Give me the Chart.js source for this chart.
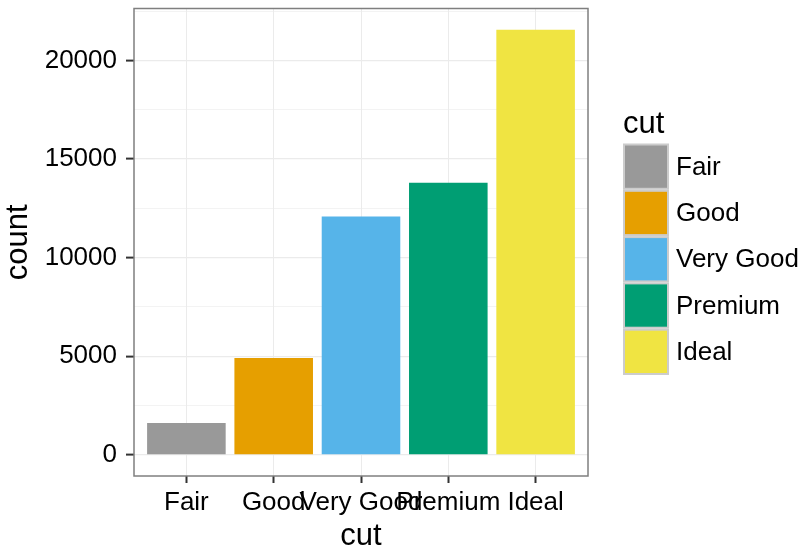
<!DOCTYPE html>
<html>
<head>
<meta charset="utf-8">
<script src="https://cdn.jsdelivr.net/npm/chart.js@4.4.1/dist/chart.umd.min.js"></script>
<style>
html,body{margin:0;padding:0;background:#fff;}
#wrap{width:806px;height:552px;position:relative;}
</style>
</head>
<body>
<div id="wrap"><canvas id="c" width="806" height="552"></canvas></div>
<script>
// ---- data ----
const categories = ["Fair", "Good", "Very Good", "Premium", "Ideal"];
const counts = [1610, 4906, 12082, 13791, 21551];
const barColors = ["#999999", "#E69F00", "#56B4E9", "#009E73", "#F0E442"];
const yMajorTicks = [0, 5000, 10000, 15000, 20000];
const yMinorTicks = [2500, 7500, 12500, 17500, 22500];
const xTitle = "cut";
const yTitle = "count";
const legendTitle = "cut";

const FONT = '"Liberation Sans", Arial, Helvetica, sans-serif';
const maxCount = Math.max(...counts);
const yPad = maxCount * 0.05;

const panelBorder = {
  id: 'panelBorder',
  afterDraw(chart) {
    const {ctx, chartArea: a} = chart;
    ctx.save();
    ctx.strokeStyle = '#7f7f7f';
    ctx.lineWidth = 1.5;
    ctx.strokeRect(a.left, a.top, a.right - a.left, a.bottom - a.top);
    ctx.restore();
  }
};

const ggLegend = {
  id: 'ggLegend',
  afterDraw(chart) {
    const {ctx, chartArea: a} = chart;
    ctx.save();
    const x0 = a.right + 35;
    const keyW = 46, keyH = 46.3, y0 = 143.5;
    ctx.fillStyle = '#000';
    ctx.textAlign = 'left';
    ctx.textBaseline = 'alphabetic';
    ctx.font = '31px ' + FONT;
    ctx.fillText(legendTitle, x0, 133);
    ctx.font = '26px ' + FONT;
    ctx.textBaseline = 'middle';
    categories.forEach((c, i) => {
      const y = y0 + i * keyH;
      ctx.fillStyle = '#cccccc';
      ctx.fillRect(x0, y, keyW, keyH);
      ctx.fillStyle = barColors[i];
      ctx.fillRect(x0 + 2, y + 2, keyW - 4, keyH - 4);
      ctx.fillStyle = '#000';
      ctx.fillText(c, x0 + keyW + 7, y + keyH / 2 + 1);
    });
    ctx.restore();
  }
};

new Chart(document.getElementById('c'), {
  type: 'bar',
  data: {
    datasets: [{
      data: categories.map((c, i) => ({x: i, y: counts[i]})),
      backgroundColor: barColors,
      borderWidth: 0,
      barPercentage: 0.9,
      categoryPercentage: 1.0
    }]
  },
  options: {
    responsive: false,
    animation: false,
    devicePixelRatio: 1,
    layout: {padding: {left: 0, right: 218, top: 8.5, bottom: 0}},
    plugins: {legend: {display: false}, tooltip: {enabled: false}},
    scales: {
      x: {
        type: 'linear',
        offset: false,
        min: -0.6,
        max: categories.length - 1 + 0.6,
        afterBuildTicks(scale) { scale.ticks = categories.map((c, i) => ({value: i})); },
        afterFit(scale) { scale.height = 76; scale.paddingLeft = 0; scale.paddingRight = 0; },
        border: {display: false},
        grid: {offset: false, color: '#ebebeb', lineWidth: 1, tickLength: 7, tickColor: '#333333', tickWidth: 2},
        ticks: {
          autoSkip: false, maxRotation: 0, minRotation: 0, padding: 4,
          color: '#000', font: {family: FONT, size: 26},
          callback: (v) => categories[v]
        },
        title: {display: true, text: xTitle, color: '#000', font: {family: FONT, size: 31, lineHeight: 1.0}, padding: 0}
      },
      y: {
        type: 'linear',
        min: -yPad,
        max: maxCount + yPad,
        afterBuildTicks(scale) {
          scale.ticks = [...yMajorTicks, ...yMinorTicks].sort((p, q) => p - q).map(v => ({value: v}));
        },
        afterFit(scale) { scale.width = 134; scale.paddingTop = 0; scale.paddingBottom = 0; },
        border: {display: false},
        grid: {
          color: '#ebebeb',
          lineWidth: (ctx) => (ctx.tick && yMajorTicks.includes(ctx.tick.value)) ? 1.2 : 0.6,
          tickLength: 8,
          tickColor: (ctx) => (ctx.tick && yMajorTicks.includes(ctx.tick.value)) ? '#333333' : 'rgba(0,0,0,0)',
          tickWidth: 2
        },
        ticks: {
          autoSkip: false, padding: 9, color: '#000', font: {family: FONT, size: 26},
          callback: (v) => yMajorTicks.includes(v) ? String(v) : ''
        },
        title: {display: true, text: yTitle, color: '#000', font: {family: FONT, size: 31, lineHeight: 1.2}, padding: 0}
      }
    }
  },
  plugins: [panelBorder, ggLegend]
});
</script>
</body>
</html>
